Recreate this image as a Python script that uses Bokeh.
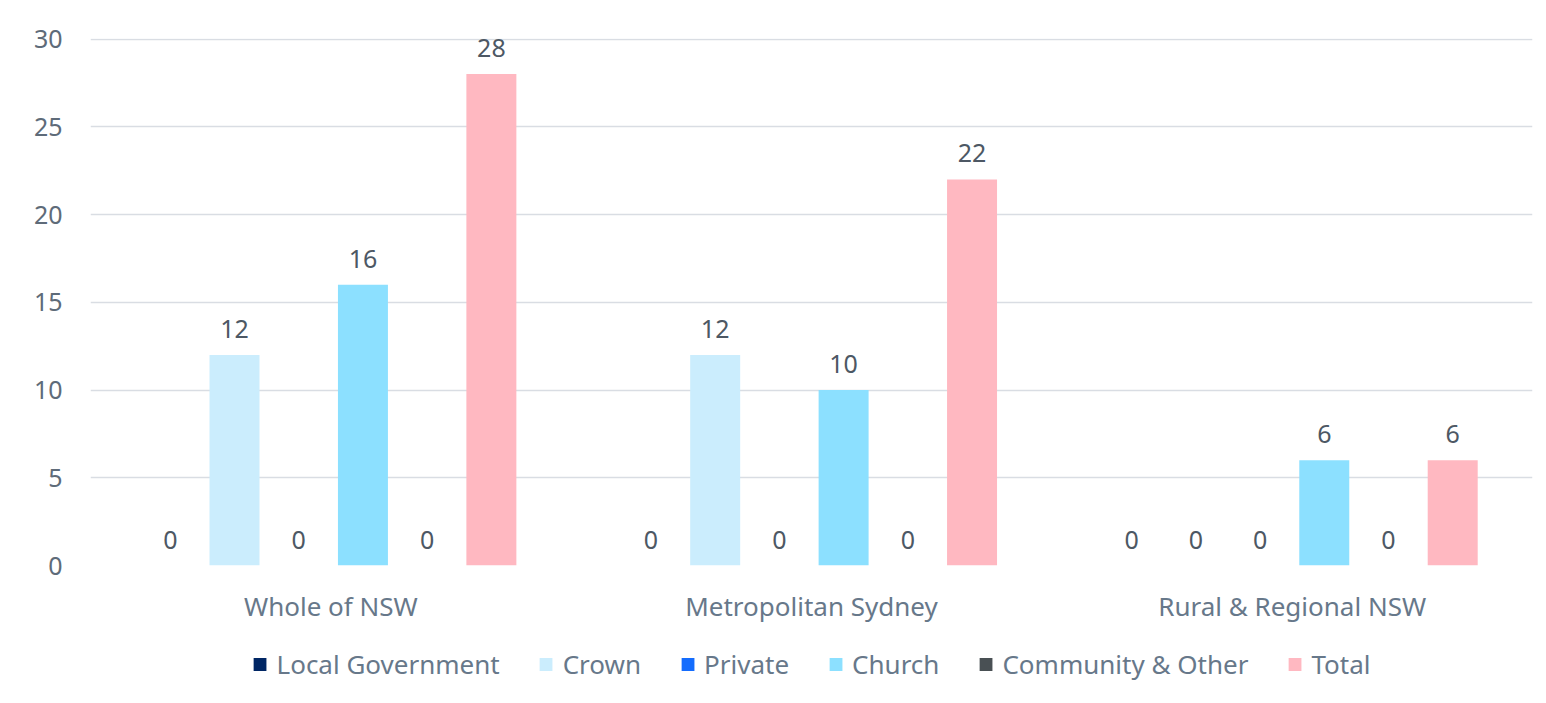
from bokeh.plotting import figure
from bokeh.layouts import column
from bokeh.models import ColumnDataSource, FactorRange, Range1d, FixedTicker, Legend, LegendItem
from bokeh.transform import dodge
from bokeh.core.properties import value
from bokeh.embed import file_html
from bokeh.resources import INLINE

categories = ["Whole of NSW", "Metropolitan Sydney", "Rural & Regional NSW"]
series_names = ["Local Government", "Crown", "Private", "Church", "Community & Other", "Total"]
local_government = [0, 0, 0]
crown = [12, 12, 0]
private = [0, 0, 0]
church = [16, 10, 6]
community_other = [0, 0, 0]
total = [28, 22, 6]
y_ticks = [0, 5, 10, 15, 20, 25, 30]

colors = ["#002664", "#cbedfd", "#146cfd", "#8ce0ff", "#495054", "#ffb8c1"]
series_values = [local_government, crown, private, church, community_other, total]

FONT = "Noto Sans"
FS = "26px"
AXIS_COLOR = "#5e6b79"
CAT_COLOR = "#67788a"
LABEL_COLOR = "#4d5864"
GRID = "#d9dde3"

p = figure(x_range=FactorRange(*categories), y_range=Range1d(0, 30.03),
           width=1538, height=628, output_backend="svg", toolbar_location=None,
           min_border_left=90, min_border_right=6, min_border_top=38, min_border_bottom=63)
p.outline_line_color = None
p.background_fill_color = "white"
p.border_fill_color = "white"

data = {"cat": categories}
for name, vals in zip(series_names, series_values):
    data[name] = vals
    data[name + "_lbl"] = [str(v) for v in vals]
src = ColumnDataSource(data)

step = 0.1336
bar_w = 0.104
for i, (name, col) in enumerate(zip(series_names, colors)):
    off = (i - 2.5) * step
    p.vbar(x=dodge("cat", off, range=p.x_range), top=name, width=bar_w, source=src,
           fill_color=col, line_color=None)
    p.text(x=dodge("cat", off, range=p.x_range), y=name, text=name + "_lbl", source=src,
           text_align="center", text_baseline="bottom", y_offset=-17,
           text_font=value(FONT), text_font_size="25px", text_color=LABEL_COLOR)

p.yaxis.ticker = FixedTicker(ticks=y_ticks)
p.yaxis.axis_line_color = None
p.yaxis.major_tick_line_color = None
p.yaxis.minor_tick_line_color = None
p.yaxis.major_label_standoff = 22
p.yaxis.major_label_text_font = FONT
p.yaxis.major_label_text_font_size = "25px"
p.yaxis.major_label_text_color = AXIS_COLOR

p.xaxis.axis_line_color = None
p.xaxis.major_tick_line_color = None
p.xaxis.minor_tick_line_color = None
p.xaxis.major_label_standoff = 16
p.xaxis.major_label_text_font = FONT
p.xaxis.major_label_text_font_size = FS
p.xaxis.major_label_text_color = CAT_COLOR

p.xgrid.grid_line_color = None
p.ygrid.grid_line_color = GRID
p.ygrid.grid_line_width = 1.5

# legend strip below the chart (its bars sit outside its visible range)
pl = figure(x_range=FactorRange(*categories), y_range=Range1d(100, 101),
            width=1538, height=72, output_backend="svg", toolbar_location=None,
            min_border_left=22, min_border_right=6, min_border_top=0, min_border_bottom=0)
pl.axis.visible = False
pl.grid.grid_line_color = None
pl.outline_line_color = None
items = []
for name, col in zip(series_names, colors):
    r = pl.vbar(x="cat", top=name, width=0.1, source=src, fill_color=col, line_color=None)
    items.append(LegendItem(label=name, renderers=[r]))
legend = Legend(items=items, orientation="horizontal", location="center",
                glyph_width=16, glyph_height=16, label_standoff=9, spacing=38,
                label_text_font=FONT, label_text_font_size=FS, label_text_color=CAT_COLOR,
                border_line_color=None, background_fill_alpha=0, padding=4, margin=0)
pl.add_layout(legend, "center")

layout = column(p, pl, spacing=0)
open("out.html", "w").write(file_html(layout, INLINE))
